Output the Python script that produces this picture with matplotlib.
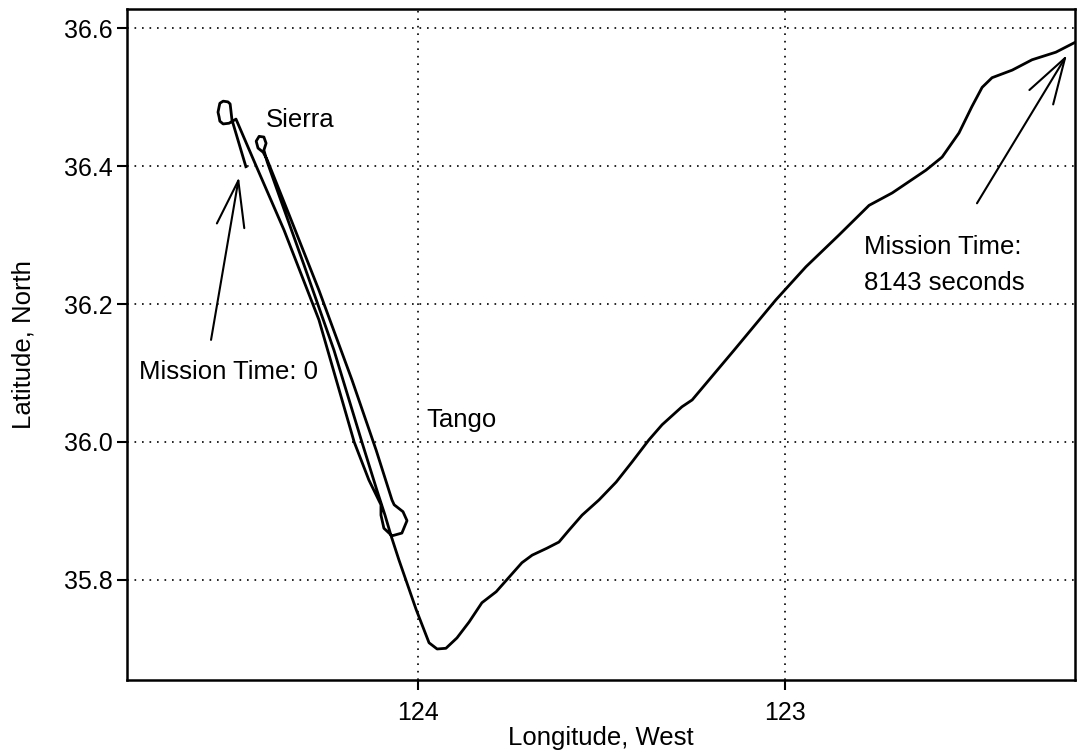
import matplotlib
matplotlib.use("Agg")
import matplotlib.pyplot as plt

plt.rcParams['font.family'] = ['Liberation Sans', 'DejaVu Sans']

# vehicle track, longitude west / latitude north, in time order
track_lon = [124.469, 124.507, 124.510, 124.512, 124.518, 124.531, 124.540, 124.542, 124.545, 124.542,
             124.540, 124.531, 124.515, 124.496,
             124.441, 124.365, 124.270, 124.174, 124.134, 124.101,
             124.101, 124.093, 124.071, 124.044, 124.030, 124.041, 124.065,
             124.071, 124.114, 124.180, 124.270, 124.351, 124.411, 124.422,
             124.436, 124.441, 124.433, 124.420, 124.414, 124.420,
             124.411, 124.379, 124.311, 124.229, 124.153, 124.112, 124.090, 124.074, 124.052, 124.005,
             123.970, 123.948, 123.924, 123.894, 123.861, 123.826, 123.787, 123.752, 123.717, 123.689,
             123.649, 123.616, 123.589, 123.553, 123.507, 123.460, 123.417, 123.371, 123.335, 123.281,
             123.253, 123.139, 123.025, 122.943, 122.853, 122.771, 122.708, 122.616, 122.572, 122.526,
             122.491, 122.463, 122.436, 122.381, 122.327, 122.262, 122.207]
track_lat = [36.399, 36.467, 36.481, 36.490, 36.493, 36.494, 36.491, 36.486, 36.478, 36.471,
             36.465, 36.461, 36.462, 36.468,
             36.400, 36.307, 36.177, 36.000, 35.945, 35.909,
             35.894, 35.875, 35.864, 35.868, 35.886, 35.899, 35.909,
             35.916, 35.988, 36.090, 36.220, 36.329, 36.409, 36.420,
             36.426, 36.436, 36.443, 36.442, 36.433, 36.423,
             36.406, 36.358, 36.257, 36.133, 36.000, 35.930, 35.894, 35.865, 35.829, 35.757,
             35.709, 35.700, 35.701, 35.716, 35.739, 35.767, 35.783, 35.804, 35.825, 35.836,
             35.846, 35.855, 35.872, 35.894, 35.916, 35.942, 35.971, 36.003, 36.025, 36.051,
             36.061, 36.133, 36.206, 36.254, 36.300, 36.343, 36.361, 36.394, 36.413, 36.448,
             36.486, 36.514, 36.528, 36.539, 36.554, 36.565, 36.580]

x_ticks = [124, 123]
y_ticks = [35.8, 36.0, 36.2, 36.4, 36.6]

fig = plt.figure(figsize=(10.78, 7.55), dpi=100)
ax = fig.add_axes([0.1178, 0.0993, 0.8794, 0.8887])

ax.plot(track_lon, track_lat, color='black', lw=2.0, solid_joinstyle='round')

ax.set_xlim(124.793, 122.21)
ax.set_ylim(35.655, 36.6275)
ax.set_xticks(x_ticks)
ax.set_xticklabels(['124', '123'])
ax.set_yticks(y_ticks)
ax.set_yticklabels(['%.1f' % v for v in y_ticks])
ax.grid(True, color='black', linestyle=(0, (1, 3.5)), linewidth=1.2)

for s in ax.spines.values():
    s.set_linewidth(1.8)
ax.tick_params(axis='both', direction='out', length=7, width=1.5, labelsize=18)
ax.tick_params(axis='y', pad=3)
ax.tick_params(axis='x', pad=8)

fs = 18.5
ax.set_xlabel('Longitude, West', fontsize=fs, labelpad=1)
ax.set_ylabel('Latitude, North', fontsize=fs, labelpad=21)

ax.text(124.414, 36.467, 'Sierra', fontsize=fs, va='center', ha='left')
ax.text(123.978, 36.032, 'Tango', fontsize=fs, va='center', ha='left')

arrow = dict(arrowstyle='->,head_length=3.3,head_width=1.0', color='black', lw=1.5,
             mutation_scale=10, shrinkA=0, shrinkB=0)
ax.text(124.760, 36.101, 'Mission Time: 0', fontsize=fs, va='center', ha='left')
ax.annotate('', xy=(124.488, 36.384), xytext=(124.564, 36.148), arrowprops=arrow)
ax.text(122.785, 36.257, 'Mission Time:\n8143 seconds', fontsize=fs, va='center', ha='left',
        linespacing=1.65)
ax.annotate('', xy=(122.232, 36.561), xytext=(122.477, 36.346), arrowprops=arrow)

fig.savefig('out.png', dpi=100)
